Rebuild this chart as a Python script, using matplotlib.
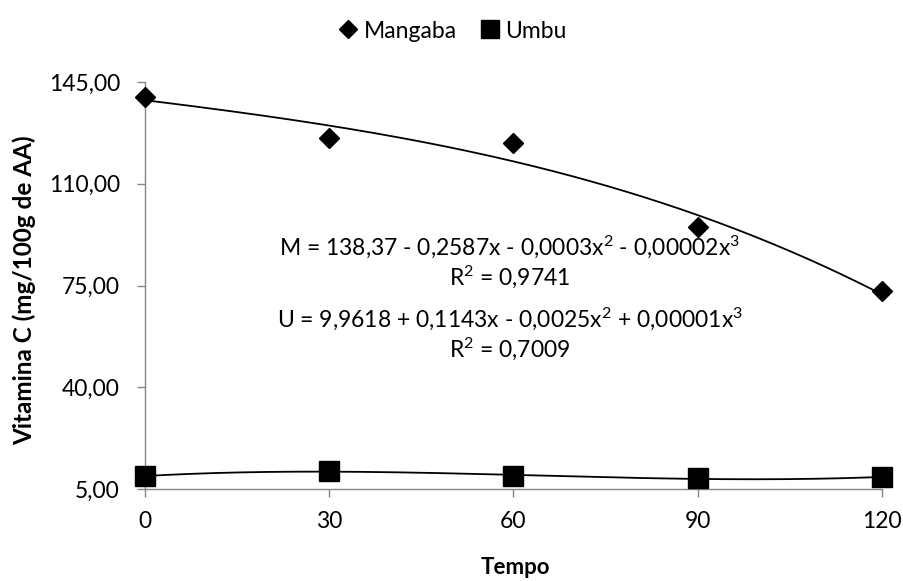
import numpy as np
import matplotlib
matplotlib.use("Agg")
import matplotlib.pyplot as plt
from matplotlib.ticker import FuncFormatter

plt.rcParams['font.family'] = ['Lato', 'DejaVu Sans']
plt.rcParams['mathtext.fontset'] = 'custom'
plt.rcParams['mathtext.rm'] = 'Lato'
plt.rcParams['mathtext.it'] = 'Lato:italic'
plt.rcParams['mathtext.bf'] = 'Lato:bold'

tempo = [0, 30, 60, 90, 120]
mangaba = [139.8, 125.8, 124.0, 95.0, 73.0]
umbu = [9.4, 11.2, 9.5, 8.7, 9.1]
y_ticks = [5, 40, 75, 110, 145]

sq = r"$^{\mathrm{2}}$"
cb = r"$^{\mathrm{3}}$"
eq_m = "M = 138,37 - 0,2587x - 0,0003x" + sq + " - 0,00002x" + cb
r2_m = "R" + sq + " = 0,9741"
eq_u = "U = 9,9618 + 0,1143x - 0,0025x" + sq + " + 0,00001x" + cb
r2_u = "R" + sq + " = 0,7009"

W, H = 904, 581
fig = plt.figure(figsize=(W / 100, H / 100), dpi=100)
ax = fig.add_axes([145 / W, 1 - 489 / H, 737 / W, 407 / H])

# cubic trend lines (as in Excel)
xs = np.linspace(0, 120, 200)
pm = np.polyfit(tempo, mangaba, 3)
pu = np.polyfit(tempo, umbu, 3)
ax.plot(xs, np.polyval(pm, xs), color='black', lw=1.3, clip_on=False)
ax.plot(xs, np.polyval(pu, xs), color='black', lw=1.3, clip_on=False)

ax.plot(tempo, mangaba, 'D', color='black', ms=10, ls='none', label='Mangaba', clip_on=False, zorder=5)
ax.plot(tempo, umbu, 's', color='black', ms=14, ls='none', label='Umbu', clip_on=False, zorder=5)

ax.set_xlim(0, 120)
ax.set_ylim(5, 145)
ax.set_xticks(tempo)
ax.set_yticks(y_ticks)
ax.yaxis.set_major_formatter(FuncFormatter(lambda v, p: ("%.2f" % v).replace('.', ',')))

for s in ['top', 'right']:
    ax.spines[s].set_visible(False)
for s in ['left', 'bottom']:
    ax.spines[s].set_color('#868686')
    ax.spines[s].set_linewidth(1.0)
ax.tick_params(axis='both', colors='#868686', labelcolor='black', labelsize=16.5, length=6, width=1)
ax.tick_params(axis='y', pad=12)
ax.tick_params(axis='x', pad=10)

fig.text(515 / W, 1 - 568 / H, 'Tempo', fontsize=16, fontweight='bold', ha='center', va='center')
fig.text(24 / W, 1 - 290 / H, 'Vitamina C (mg/100g de AA)', fontsize=17.5, fontweight='bold',
         ha='center', va='center', rotation=90)

ax.text(59.3, 85.5, eq_m, ha='center', va='baseline', fontsize=16.5)
ax.text(59.3, 75.2, r2_m, ha='center', va='baseline', fontsize=16.5)
ax.text(59.4, 60.7, eq_u, ha='center', va='baseline', fontsize=16.5)
ax.text(59.4, 50.4, r2_u, ha='center', va='baseline', fontsize=16.5)

fig.legend(loc='center', bbox_to_anchor=(453 / W, 1 - 31 / H), ncol=2, frameon=False,
           fontsize=16.5, handlelength=0.8, handletextpad=0.3, columnspacing=1.0, markerscale=0.9)

fig.savefig('out.png', dpi=100)
